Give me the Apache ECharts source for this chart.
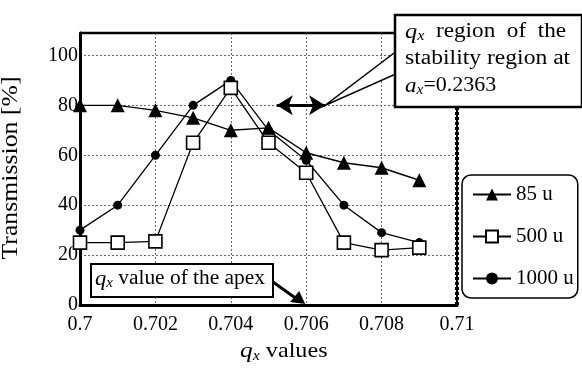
<!DOCTYPE html>
<html><head><meta charset="utf-8">
<script src="https://cdn.jsdelivr.net/npm/echarts@6/dist/echarts.min.js"></script>
<style>html,body{margin:0;padding:0;background:#fff}#c{width:582px;height:369px}</style>
</head><body><div id="c"></div>
<script>
const qx = [0.700,0.701,0.702,0.703,0.704,0.705,0.706,0.707,0.708,0.709];
const t85 = [80,80,78,75,70,71,61,57,55,50];
const t500 = [25,25,25.5,65,87,65,53,25,22,23];
const t1000 = [30,40,60,80,90,70,58,40,29,25];
const seriesNames = ['85 u','500 u','1000 u'];
const apexQx = 0.706;
const regionQx = [0.70522, 0.7065];
const regionY = 80;

const F = 'Liberation Serif, Times New Roman, serif';
const chart = echarts.init(document.getElementById('c'), null, {renderer:'canvas'});
const pair = a => qx.map((x,i)=>[x,a[i]]);
const mkRich = (fs) => ({q:{fontFamily:F,fontStyle:'italic',fontSize:fs+1,color:'#000'},s:{fontFamily:F,fontStyle:'italic',fontSize:Math.round(fs*0.68),color:'#000',padding:[Math.round(fs*0.42),0,0,0]},t:{fontFamily:F,fontSize:fs,color:'#000'}});
const splitStyle = {color:'#666',type:[2,2],width:1};

chart.setOption({
  animation:false,
  grid:{left:80,right:125,top:33,bottom:64,show:false},
  xAxis:{type:'value',min:0.7,max:0.71,interval:0.002,
    axisLine:{show:true,onZero:false,lineStyle:{color:'#000',width:3}},
    axisTick:{show:false},
    axisLabel:{fontFamily:F,fontSize:20,color:'#000',margin:10,formatter:v=>String(parseFloat(v.toFixed(3)))},
    splitLine:{show:true,lineStyle:splitStyle}},
  yAxis:{type:'value',min:0,max:109,interval:20,
    axisLine:{show:true,onZero:false,lineStyle:{color:'#000',width:3}},
    axisTick:{show:false},
    axisLabel:{fontFamily:F,fontSize:20,color:'#000',margin:2,formatter:v=>(v%20===0?String(v):'')},
    splitLine:{show:true,lineStyle:splitStyle}},
  legend:{orient:'vertical',left:462,top:175,width:114,
    backgroundColor:'#fff',borderColor:'#000',borderWidth:1.5,borderRadius:9,
    padding:[9,4,9,10],itemGap:21,itemWidth:38,itemHeight:15,
    textStyle:{fontFamily:F,fontSize:21,color:'#000'},
    data:seriesNames},
  series:[
    {name:seriesNames[0],type:'line',data:pair(t85),symbol:'triangle',symbolSize:14,
      lineStyle:{color:'#000',width:1.4},itemStyle:{color:'#000'},z:3,
      markLine:{silent:true,symbol:'none',label:{show:false},
        lineStyle:{color:'#000',width:4,type:[3,2]},data:[{xAxis:apexQx}]}},
    {name:seriesNames[2],type:'line',data:pair(t1000),symbol:'circle',symbolSize:9,
      lineStyle:{color:'#000',width:1.3},itemStyle:{color:'#000'},z:4,
      markLine:{silent:true,symbol:['arrow','arrow'],symbolSize:[15,16],label:{show:false},
        lineStyle:{color:'#000',width:3,type:'solid'},
        data:[[{coord:[regionQx[0],regionY]},{coord:[regionQx[1],regionY]}]]}},
    {name:seriesNames[1],type:'line',data:pair(t500),symbol:'rect',symbolSize:13,
      lineStyle:{color:'#000',width:1.3},itemStyle:{color:'#fff',borderColor:'#000',borderWidth:1.6},z:5}
  ]
});

const pEnd = chart.convertToPixel({gridIndex:0},[regionQx[1],regionY]);
const pApex = chart.convertToPixel({gridIndex:0},[apexQx,0]);
const pTL = chart.convertToPixel({gridIndex:0},[0.7,109]);
const pBR = chart.convertToPixel({gridIndex:0},[0.71,0]);
const r20 = mkRich(20);

chart.setOption({graphic:[
  // plot frame (top & right)
  {type:'line',z:90,shape:{x1:pTL[0],y1:pTL[1],x2:pBR[0]+1,y2:pTL[1]},style:{stroke:'#000',lineWidth:2.5}},
  {type:'line',z:90,shape:{x1:pBR[0],y1:pTL[1],x2:pBR[0],y2:pBR[1]},style:{stroke:'#000',lineWidth:2}},
  // callout pointer
  {type:'polygon',z:100,shape:{points:[[398,50],[pEnd[0],pEnd[1]],[398,73]]},style:{fill:'#fff',stroke:'#000',lineWidth:1.5}},
  {type:'rect',z:101,shape:{x:395,y:15,width:187,height:92},style:{fill:'#fff',stroke:'#000',lineWidth:2.5}},
  {type:'text',z:102,x:405,y:21,scaleX:1.16,style:{rich:r20,text:'{q|q}{s|x}{t|  region  of  the}'}},
  {type:'text',z:102,x:405,y:49,scaleX:1.18,style:{rich:r20,text:'{t|stability region at}'}},
  {type:'text',z:102,x:405,y:75,scaleX:1.1,style:{rich:r20,text:'{q|a}{s|x}{t|=0.2363}'}},
  // apex box
  {type:'rect',z:101,shape:{x:91,y:264,width:182,height:33},style:{fill:'#fff',stroke:'#000',lineWidth:2}},
  {type:'text',z:102,x:95,y:268,scaleX:1.07,style:{rich:r20,text:'{q|q}{s|x}{t| value of the apex}'}},
  {type:'line',z:101,shape:{x1:273,y1:282,x2:pApex[0]-8,y2:pApex[1]-5},style:{stroke:'#000',lineWidth:3}},
  {type:'polygon',z:101,shape:{points:[[pApex[0]-1,pApex[1]-1],[pApex[0]-16,pApex[1]-3],[pApex[0]-7,pApex[1]-14]]},style:{fill:'#000'}},
  // axis titles
  {type:'text',z:102,x:240,y:340,scaleX:1.15,style:{rich:mkRich(21),text:'{q|q}{s|x}{t| values}'}},
  {type:'text',z:102,x:11,y:168,rotation:Math.PI/2,scaleX:1.12,style:{text:'Transmission [%]',font:'23px '+F,fill:'#000',align:'center',verticalAlign:'middle'}}
]});
</script></body></html>
